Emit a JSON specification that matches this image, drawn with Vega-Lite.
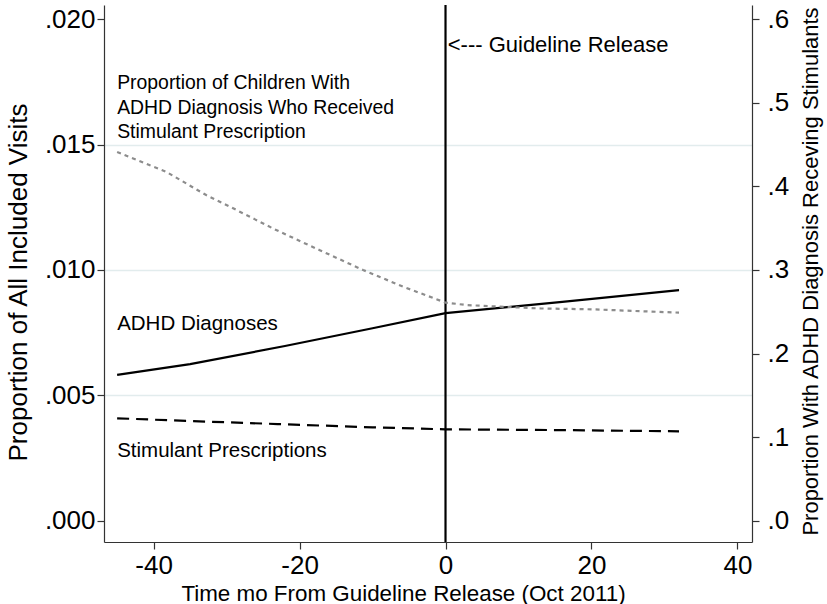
{
  "$schema": "https://vega.github.io/schema/vega-lite/v6.json",
  "width": 648,
  "height": 537,
  "autosize": {"type": "none"},
  "padding": {"left": 104, "top": 5, "right": 75, "bottom": 62},
  "background": "white",
  "config": {
    "view": {"stroke": null},
    "font": "Liberation Sans",
    "axis": {
      "labelFont": "Liberation Sans",
      "titleFont": "Liberation Sans",
      "labelFontSize": 26,
      "titleFontSize": 22,
      "titleFontWeight": "normal",
      "labelColor": "black",
      "titleColor": "black",
      "domainColor": "#333333",
      "domainWidth": 1.2,
      "tickColor": "#333333",
      "tickWidth": 1.2,
      "tickSize": 7
    }
  },
  "datasets": {
    "visits": [
      {"t": -45, "v": 0.00582, "series": "ADHD"},
      {"t": -35, "v": 0.00625, "series": "ADHD"},
      {"t": -22, "v": 0.00697, "series": "ADHD"},
      {"t": -10, "v": 0.00768, "series": "ADHD"},
      {"t": 0, "v": 0.00828, "series": "ADHD"},
      {"t": 16, "v": 0.00873, "series": "ADHD"},
      {"t": 32, "v": 0.00920, "series": "ADHD"},
      {"t": -45, "v": 0.00409, "series": "Stim"},
      {"t": -35, "v": 0.00398, "series": "Stim"},
      {"t": -23, "v": 0.00386, "series": "Stim"},
      {"t": -10, "v": 0.00373, "series": "Stim"},
      {"t": 0, "v": 0.00365, "series": "Stim"},
      {"t": 16, "v": 0.00362, "series": "Stim"},
      {"t": 32, "v": 0.00357, "series": "Stim"}
    ],
    "prop": [
      {"t": -45, "p": 0.441},
      {"t": -38.3, "p": 0.4175},
      {"t": -32.8, "p": 0.3896},
      {"t": -29.1, "p": 0.3737},
      {"t": -23.4, "p": 0.3486},
      {"t": -17.3, "p": 0.3239},
      {"t": -11.3, "p": 0.3},
      {"t": -5.8, "p": 0.28},
      {"t": 0, "p": 0.261},
      {"t": 3, "p": 0.258},
      {"t": 8, "p": 0.256},
      {"t": 13, "p": 0.254},
      {"t": 20, "p": 0.253},
      {"t": 26, "p": 0.251},
      {"t": 32, "p": 0.249}
    ],
    "labels": [
      {"t": -45, "v": 0.01745, "text": "Proportion of Children With", "kind": "block"},
      {"t": -45, "v": 0.01645, "text": "ADHD Diagnosis Who Received", "kind": "block"},
      {"t": -45, "v": 0.01550, "text": "Stimulant Prescription", "kind": "block"},
      {"t": -45, "v": 0.00785, "text": "ADHD Diagnoses", "kind": "series"},
      {"t": -45, "v": 0.00279, "text": "Stimulant Prescriptions", "kind": "series"},
      {"t": 0.3, "v": 0.01896, "text": "<--- Guideline Release", "kind": "release"}
    ],
    "release": [{"t": 0}]
  },
  "layer": [
    {
      "layer": [
        {
          "data": {"name": "visits"},
          "transform": [{"filter": "datum.series == 'ADHD'"}],
          "mark": {"type": "line", "color": "black", "strokeWidth": 2.2},
          "encoding": {
            "x": {
              "field": "t", "type": "quantitative",
              "scale": {"domain": [-46.8, 42], "nice": false, "zero": false},
              "axis": {
                "values": [-40, -20, 0, 20, 40],
                "labelExpr": "'' + datum.value",
                "grid": false,
                "title": "Time mo From Guideline Release (Oct 2011)",
                "labelPadding": 3,
                "titleX": 299,
                "titleY": 51,
                "titleBaseline": "middle",
                "titleAlign": "center",
                "titleFontSize": 22.4
              }
            },
            "y": {
              "field": "v", "type": "quantitative",
              "scale": {"domain": [-0.00084, 0.02056], "nice": false, "zero": false},
              "axis": {
                "orient": "left",
                "values": [0, 0.005, 0.01, 0.015, 0.02],
                "labelExpr": "replace(format(datum.value, '.3f'), '0.', '.')",
                "grid": true,
                "gridColor": "#e2eced",
                "gridWidth": 1.5,
                "gridOpacity": {"condition": {"test": "datum.value < 0.001 || datum.value > 0.019", "value": 0}, "value": 1},
                "title": "Proportion of All Included Visits",
                "labelPadding": 2,
                "titleAngle": 270,
                "titleX": -86,
                "titleY": 277,
                "titleBaseline": "middle",
                "titleAlign": "center",
                "titleFontSize": 26
              }
            }
          }
        },
        {
          "data": {"name": "visits"},
          "transform": [{"filter": "datum.series == 'Stim'"}],
          "mark": {"type": "line", "color": "black", "strokeWidth": 2.2, "strokeDash": [12, 7]},
          "encoding": {
            "x": {"field": "t", "type": "quantitative"},
            "y": {"field": "v", "type": "quantitative"}
          }
        },
        {
          "data": {"name": "release"},
          "mark": {"type": "rule", "color": "black", "strokeWidth": 2.2},
          "encoding": {
            "x": {"field": "t", "type": "quantitative"}
          }
        },
        {
          "data": {"name": "labels"},
          "transform": [{"filter": "datum.kind == 'block'"}],
          "mark": {"type": "text", "align": "left", "baseline": "middle", "fontSize": 19.4, "font": "Liberation Sans", "color": "black"},
          "encoding": {
            "x": {"field": "t", "type": "quantitative"},
            "y": {"field": "v", "type": "quantitative"},
            "text": {"field": "text"}
          }
        },
        {
          "data": {"name": "labels"},
          "transform": [{"filter": "datum.kind == 'series'"}],
          "mark": {"type": "text", "align": "left", "baseline": "middle", "fontSize": 20.5, "font": "Liberation Sans", "color": "black"},
          "encoding": {
            "x": {"field": "t", "type": "quantitative"},
            "y": {"field": "v", "type": "quantitative"},
            "text": {"field": "text"}
          }
        },
        {
          "data": {"name": "labels"},
          "transform": [{"filter": "datum.kind == 'release'"}],
          "mark": {"type": "text", "align": "left", "baseline": "middle", "fontSize": 22, "font": "Liberation Sans", "color": "black"},
          "encoding": {
            "x": {"field": "t", "type": "quantitative"},
            "y": {"field": "v", "type": "quantitative"},
            "text": {"field": "text"}
          }
        }
      ]
    },
    {
      "data": {"name": "prop"},
      "mark": {"type": "line", "color": "#8c8c8c", "strokeWidth": 2.2, "strokeDash": [4, 4]},
      "encoding": {
        "x": {"field": "t", "type": "quantitative"},
        "y": {
          "field": "p", "type": "quantitative",
          "scale": {"domain": [-0.0252, 0.6168], "nice": false, "zero": false},
          "axis": {
            "orient": "right",
            "values": [0, 0.1, 0.2, 0.3, 0.4, 0.5, 0.6],
            "labelExpr": "replace(format(datum.value, '.1f'), '0.', '.')",
            "grid": false,
            "title": "Proportion With ADHD Diagnosis Receving Stimulants",
            "labelPadding": 8,
            "titleAngle": 270,
            "titleX": 58,
            "titleY": 266,
            "titleBaseline": "middle",
            "titleAlign": "center",
            "titleFontSize": 22
          }
        }
      }
    }
  ],
  "resolve": {"scale": {"y": "independent"}}
}
